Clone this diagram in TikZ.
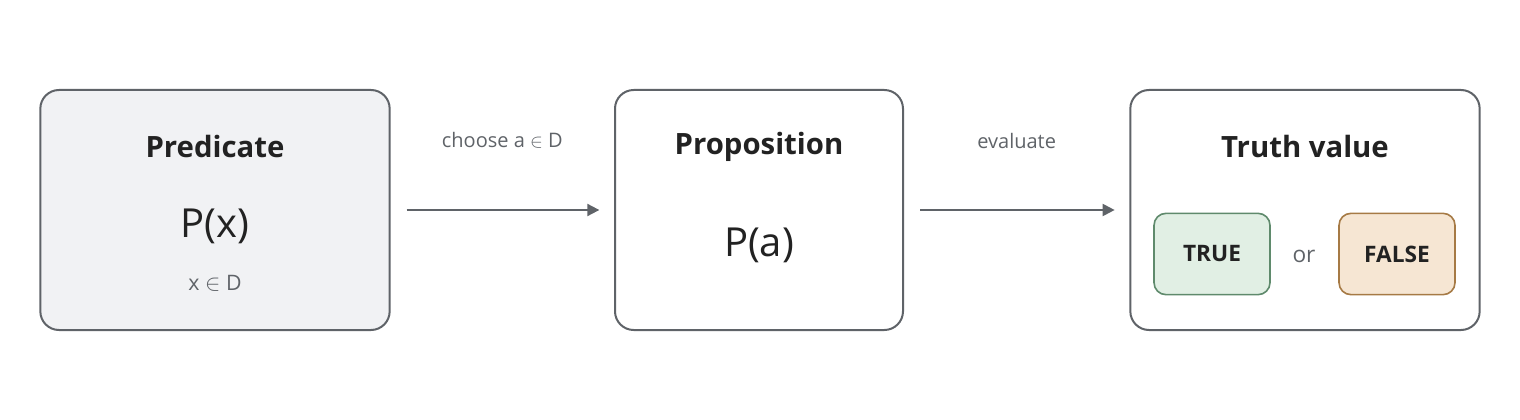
\documentclass[tikz,border=0pt]{standalone}
\usepackage{fontspec}
\setmainfont{Open Sans}
\usetikzlibrary{arrows.meta}
\definecolor{edgegray}{HTML}{5F6368}
\definecolor{inkgray}{HTML}{222222}
\definecolor{softgray}{HTML}{F1F2F4}
\definecolor{truefill}{HTML}{E1EFE4}
\definecolor{trueedge}{HTML}{5F8A6C}
\definecolor{falsefill}{HTML}{F6E6D3}
\definecolor{falseedge}{HTML}{A67A45}

\begin{document}
\begin{tikzpicture}[x = 0.75pt, y = -0.75pt,
  box/.style = {draw = edgegray, line width = 1.5pt, rounded corners = 14pt, minimum height = 180pt},
  chip/.style = {draw = #1edge, fill = #1fill, line width = 1.2pt, rounded corners = 9pt,
                 minimum width = 87pt, minimum height = 61pt, font = \fontsize{17}{20}\selectfont\bfseries, text = inkgray},
  title/.style = {font = \fontsize{22}{26}\selectfont\bfseries, text = inkgray},
  note/.style = {font = \fontsize{15}{18}\selectfont, text = edgegray},
  flow/.style = {draw = edgegray, line width = 1.5pt, -{Triangle[length = 9pt, width = 9pt]},
                 shorten < = 12pt, shorten > = 11pt}]

	\useasboundingbox (0, 0) rectangle (1520, 420);

	\node (PRED) at ( 215, 210) [box, fill = softgray, minimum width = 262pt] {};
	\node (PROP) at ( 759, 210) [box, fill = white, minimum width = 216pt] {};
	\node (TRUTH) at (1305, 210) [box, fill = white, minimum width = 262pt] {};

	\node (PREDT)  at ( 215, 147) [title] {Predicate};
	\node (PROPT)  at ( 759, 147) [title] {Proposition};
	\node (TRUTHT) at (1305, 147) [title] {Truth value};

	\node (PX) at ( 215, 226) [font = \fontsize{30}{34}\selectfont, text = inkgray] {P(x)};
	\node (XD) at ( 215, 283) [note, font = \fontsize{16}{19}\selectfont] {x $\in$ D};
	\node (PA) at ( 759, 245) [font = \fontsize{30}{34}\selectfont, text = inkgray] {P(a)};

	\node (TRUE)  at (1212, 254) [chip = true]  {TRUE};
	\node (FALSE) at (1397, 254) [chip = false] {FALSE};
	\node (OR)    at (1304, 256) [font = \fontsize{17}{20}\selectfont, text = edgegray] {or};

	\path (PRED) edge [flow] node[note, above = 42pt] {choose a $\in$ D} (PROP);
	\path (PROP) edge [flow] node[note, above = 42pt] {evaluate} (TRUTH);

\end{tikzpicture}
\end{document}
